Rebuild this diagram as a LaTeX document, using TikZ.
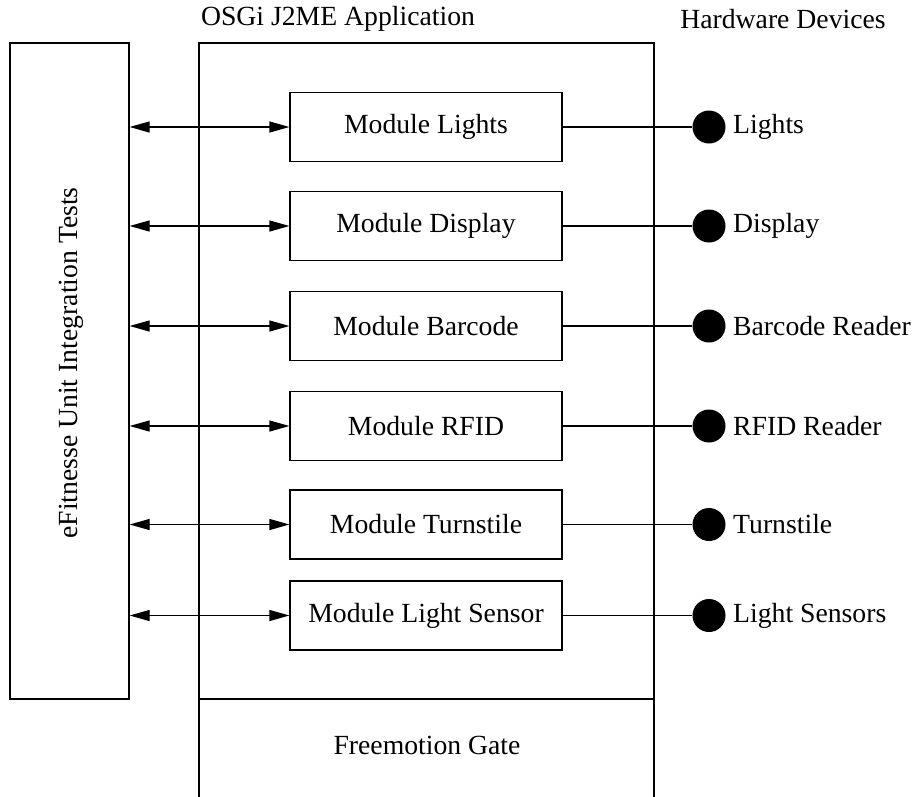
\documentclass[tikz,border=0pt]{standalone}
\usepackage{fontspec}
\setmainfont{Liberation Serif}
\usetikzlibrary{arrows.meta}
\begin{document}
\begin{tikzpicture}[x=1pt,y=-1pt,
  every node/.style={font=\fontsize{27.7}{33}\selectfont},
  frame/.style={draw, line width=1.2pt},
  modbox/.style={draw, line width=1.2pt, minimum width=272pt, minimum height=69pt, inner sep=0pt},
  link/.style={line width=1.2pt, {Triangle[length=20pt,width=11pt]}-{Triangle[length=20pt,width=11pt]}},
  wire/.style={line width=1.2pt},
  dev/.style={circle, fill=black, minimum size=33pt, inner sep=0pt},
  devlabel/.style={anchor=west, inner sep=0pt}]
\useasboundingbox (0,0) rectangle (920,796);

% test harness on the left
\node[frame, minimum width=119pt, minimum height=656pt, inner sep=0pt] (efit) at (69.5,371) {};
\node[rotate=90] (efitlabel) at (71,363) {eFitnesse Unit Integration Tests};

% application frame (open at the bottom) with the gate section
\draw[frame] (199,800) -- (199,43) -- (654,43) -- (654,800);
\draw[frame] (199,699) -- (654,699);
\node (gate) at (427,745) {Freemotion Gate};

% headers
\node (apphead) at (338,19) {OSGi J2ME Application};
\node (hwhead) at (783,19) {Hardware Devices};

% modules, devices and connections
\foreach \name/\mod/\devtext/\y in {
  m1/Module Lights/Lights/127,
  m2/Module Display/Display/226,
  m3/Module Barcode/Barcode Reader/326,
  m4/Module RFID/RFID Reader/426,
  m5/Module Turnstile/Turnstile/524.5,
  m6/Module Light Sensor/Light Sensors/615.5}{
  \node[modbox] (\name) at (426,\y) {\mod};
  \node[dev] (\name d) at (709,\y) {};
  \node[devlabel] (\name l) at (733,\y) {\devtext};
  \draw[link] (efit.east |- \name) -- (\name.west);
  \draw[wire] (\name.east) -- (\name d);
}
\end{tikzpicture}
\end{document}
